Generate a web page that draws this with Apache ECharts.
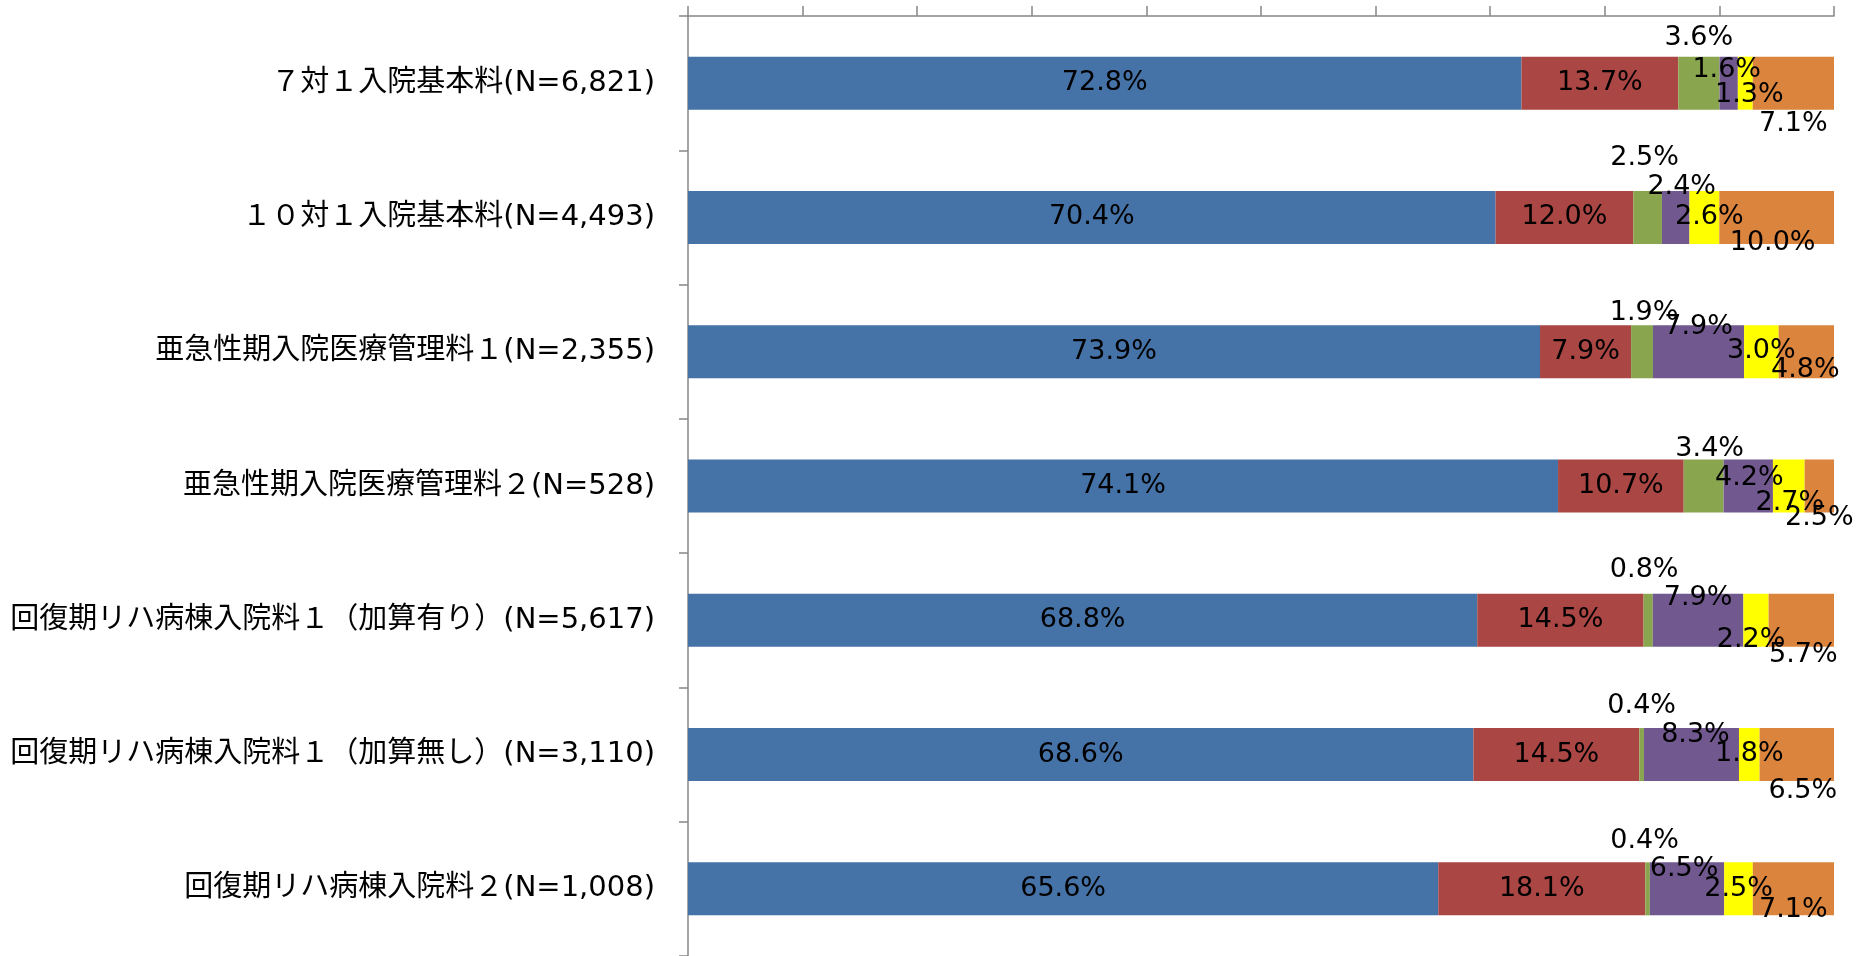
<!DOCTYPE html>
<html><head><meta charset="utf-8">
<script src="https://cdn.jsdelivr.net/npm/echarts@6/dist/echarts.min.js"></script>
<style>html,body{margin:0;padding:0;background:#fff}#c{width:1866px;height:956px}</style>
</head><body><div id="c"></div>
<script>
const categories = [
  '７対１入院基本料(N=6,821)',
  '１０対１入院基本料(N=4,493)',
  '亜急性期入院医療管理料１(N=2,355)',
  '亜急性期入院医療管理料２(N=528)',
  '回復期リハ病棟入院料１（加算有り）(N=5,617)',
  '回復期リハ病棟入院料１（加算無し）(N=3,110)',
  '回復期リハ病棟入院料２(N=1,008)'
];
const s1 = [72.8, 70.4, 73.9, 74.1, 68.8, 68.6, 65.6];
const s2 = [13.7, 12.0, 7.9, 10.7, 14.5, 14.5, 18.1];
const s3 = [3.6, 2.5, 1.9, 3.4, 0.8, 0.4, 0.4];
const s4 = [1.6, 2.4, 7.9, 4.2, 7.9, 8.3, 6.5];
const s5 = [1.3, 2.6, 3.0, 2.7, 2.2, 1.8, 2.5];
const s6 = [7.1, 10.0, 4.8, 2.5, 5.7, 6.5, 7.1];
const seriesValues = [s1, s2, s3, s4, s5, s6];

// styling (not data)
const colors = ['#4572A7', '#AA4643', '#89A54E', '#71588F', '#FFFF00', '#DB843D'];
const labelOffsets = [
  [[0,0],[0,0],[0,0],[0,0],[0,0],[0,0],[0,0]],
  [[0,0],[0,0],[0,0],[0,0],[0,0],[0,0],[0,0]],
  [[0,-45],[-3,-59],[2,-39],[6,-37],[-4,-50],[0,-49],[-3,-48]],
  [[-2,-13],[6,-30],[0,-25],[1,-8],[0,-22],[4,-20],[-3,-20]],
  [[4,12],[5,0],[0,-1],[1,17],[-5,20],[0,-1],[0,0]],
  [[0,41],[-4,26],[-1,18],[0,32],[2,35],[6,36],[0,21]]
];

const rowSums = categories.map((_, i) => seriesValues.reduce((a, s) => a + s[i], 0));

const series = seriesValues.map((vals, k) => ({
  type: 'bar',
  stack: 'total',
  barWidth: 53,
  itemStyle: { color: colors[k] },
  label: {
    show: true,
    position: 'inside',
    color: '#000',
    fontFamily: "'DejaVu Sans', Verdana, sans-serif",
    fontSize: 27,
    formatter: p => p.data.raw.toFixed(1) + '%'
  },
  data: vals.map((v, i) => ({
    value: v / rowSums[i] * 100,
    raw: v,
    label: { offset: labelOffsets[k][i] }
  }))
}));

const chart = echarts.init(document.getElementById('c'), null, { renderer: 'canvas' });
chart.setOption({
  animation: false,
  backgroundColor: '#fff',
  grid: { left: 688, right: 32, top: 16, bottom: 0, containLabel: false },
  xAxis: {
    type: 'value', position: 'top', min: 0, max: 100, interval: 10,
    axisLine: { show: true, lineStyle: { color: '#878787', width: 1.5 } },
    axisTick: { show: true, length: 10, lineStyle: { color: '#878787', width: 1.5 } },
    axisLabel: { show: false },
    splitLine: { show: false }
  },
  yAxis: {
    type: 'category', inverse: true, data: categories,
    axisLine: { show: true, lineStyle: { color: '#878787', width: 1.5 } },
    axisTick: { show: true, length: 9, lineStyle: { color: '#878787', width: 1.5 } },
    axisLabel: {
      margin: 33, color: '#000', fontSize: 29,
      fontFamily: "'DejaVu Sans', 'Noto Sans CJK JP', sans-serif"
    }
  },
  series: series
});
</script></body></html>
